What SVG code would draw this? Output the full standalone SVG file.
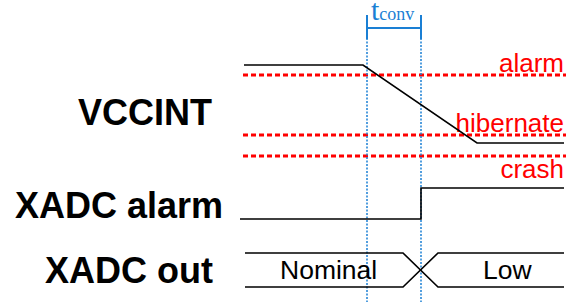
<svg xmlns="http://www.w3.org/2000/svg" width="571" height="302" viewBox="0 0 571 302">
<style>
.lbl{font-family:"Liberation Sans",Arial,sans-serif;font-weight:bold;font-size:36px;fill:#000}
.thr{font-family:"Liberation Sans",Arial,sans-serif;font-size:26px;fill:#ff0000;text-anchor:end}
.st{font-family:"Liberation Sans",Arial,sans-serif;font-size:26.5px;fill:#000}
.sig{fill:none;stroke:#000;stroke-width:1.6}
.red{fill:none;stroke:#ff0000;stroke-width:3;stroke-dasharray:5 3}
.blue{fill:none;stroke:#1a7fd4;stroke-width:1.5;stroke-dasharray:2 1.5}
.brk{fill:none;stroke:#1a7fd4;stroke-width:2}
</style>
<rect width="571" height="302" fill="#fff"/>
<g id="labels">
<text class="lbl" x="78" y="125">VCCINT</text>
<text class="lbl" x="15" y="218">XADC alarm</text>
<text class="lbl" x="45" y="283">XADC out</text>
</g>
<g id="thresholds">
<line class="red" x1="243" y1="75" x2="566" y2="75"/>
<line class="red" x1="243" y1="135" x2="566" y2="135"/>
<line class="red" x1="243" y1="156" x2="566" y2="156"/>
<text class="thr" x="564" y="72">alarm</text>
<text class="thr" x="564" y="132">hibernate</text>
<text class="thr" x="564" y="178">crash</text>
</g>
<g id="tconv">
<line class="blue" x1="367" y1="38" x2="367" y2="302"/>
<line class="blue" x1="421" y1="38" x2="421" y2="302"/>
<path class="brk" d="M367 15V39M421 15V39M367 28H421"/>
<text x="371" y="20" font-family="'Liberation Serif','Times New Roman',serif" fill="#1a7fd4"><tspan font-size="30">t</tspan><tspan font-size="18">conv</tspan></text>
</g>
<g id="connectors">
<polyline class="sig" points="244,65 363,65 477,143 564,143"/>
<polyline class="sig" points="240,219 421,219 421,188 564,188"/>
<polyline class="sig" points="245,253 403,253 438,287 564,287"/>
<polyline class="sig" points="245,287 403,287 438,253 564,253"/>
</g>
<g id="states">
<text class="st" x="280" y="279">Nominal</text>
<text class="st" x="483" y="279">Low</text>
</g>
</svg>
